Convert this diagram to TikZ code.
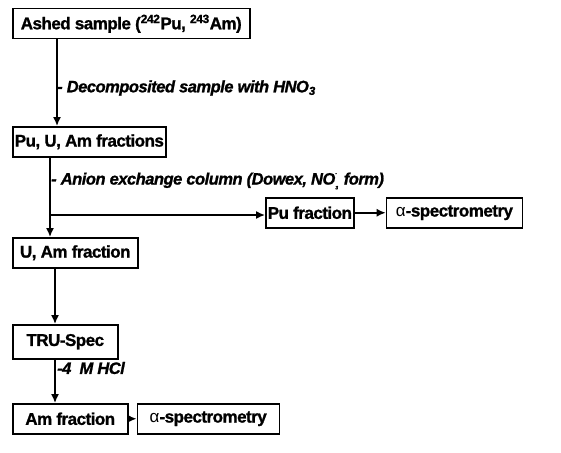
\documentclass[tikz,border=0pt]{standalone}
\usepackage{fontspec}
\setmainfont[LetterSpace=-3, BoldFeatures={FakeBold=1.2}, BoldItalicFeatures={FakeBold=1.2}]{Liberation Sans}
\usetikzlibrary{arrows.meta,positioning,calc}
\newcommand{\nothree}{NO\rlap{\raisebox{-0.55ex}{\tiny 3}}\raisebox{1.1ex}{\tiny -}}

\begin{document}
\begin{tikzpicture}[
    x=1pt, y=-1pt,
    box/.style={draw, line width=1.5pt, anchor=north west, minimum width=#1, minimum height=30pt, inner xsep=2pt, font=\fontsize{17}{20}\selectfont\bfseries},
    arr/.style={-{Latex[length=9pt,width=8pt]}, line width=1.5pt},
    note/.style={anchor=west, inner sep=0pt, font=\fontsize{16.5}{19}\selectfont\bfseries\itshape}
]
\useasboundingbox (0,0) rectangle (561,452);

\node[box=237pt] (ashed) at (12,8) {Ashed sample (\textsuperscript{242}Pu, \textsuperscript{243}Am)};
\node[box=125pt] (puuam) at (12,126) {Pu, U, Am fractions};
\node[box=125pt] (uam) at (12,237) {U, Am fraction};
\node[box=105pt, minimum height=34pt] (tru) at (12,324) {TRU-Spec};
\node[box=115pt] (amfr) at (12,403) {Am fraction};
\node[box=142pt, right=8pt of amfr.north east, anchor=north west] (amspec) {{\mdseries α}-spectrometry};
\node[box=88pt] (pufr) at (265,197) {Pu fraction};
\node[box=136pt, right=31pt of pufr.north east, anchor=north west] (puspec) {{\mdseries α}-spectrometry};

\coordinate (split) at (50,215);

\draw[arr] ([xshift=45pt]ashed.south west) -- ([xshift=45pt]puuam.north west);
\draw[arr] ([xshift=38pt]puuam.south west) -- ([xshift=38pt]uam.north west);
\draw[arr] (split) -- (split -| pufr.west);
\draw[arr] (pufr.east) -- (puspec.west);
\draw[arr] ([xshift=43pt]uam.south west) -- ([xshift=43pt]tru.north west);
\draw[arr] ([xshift=43pt]tru.south west) -- ([xshift=43pt]amfr.north west);
\draw[arr] (amfr.east) -- (amspec.west);

\node[note] (lhno) at (57,88) {- Decomposited sample with HNO\textsubscript{3}};
\node[note] (lanion) at (51,181) {- Anion exchange column (Dowex, \nothree\ \,form)};
\node[note] (lhcl) at (57,368) {-4 \ M HCl};
\end{tikzpicture}
\end{document}
